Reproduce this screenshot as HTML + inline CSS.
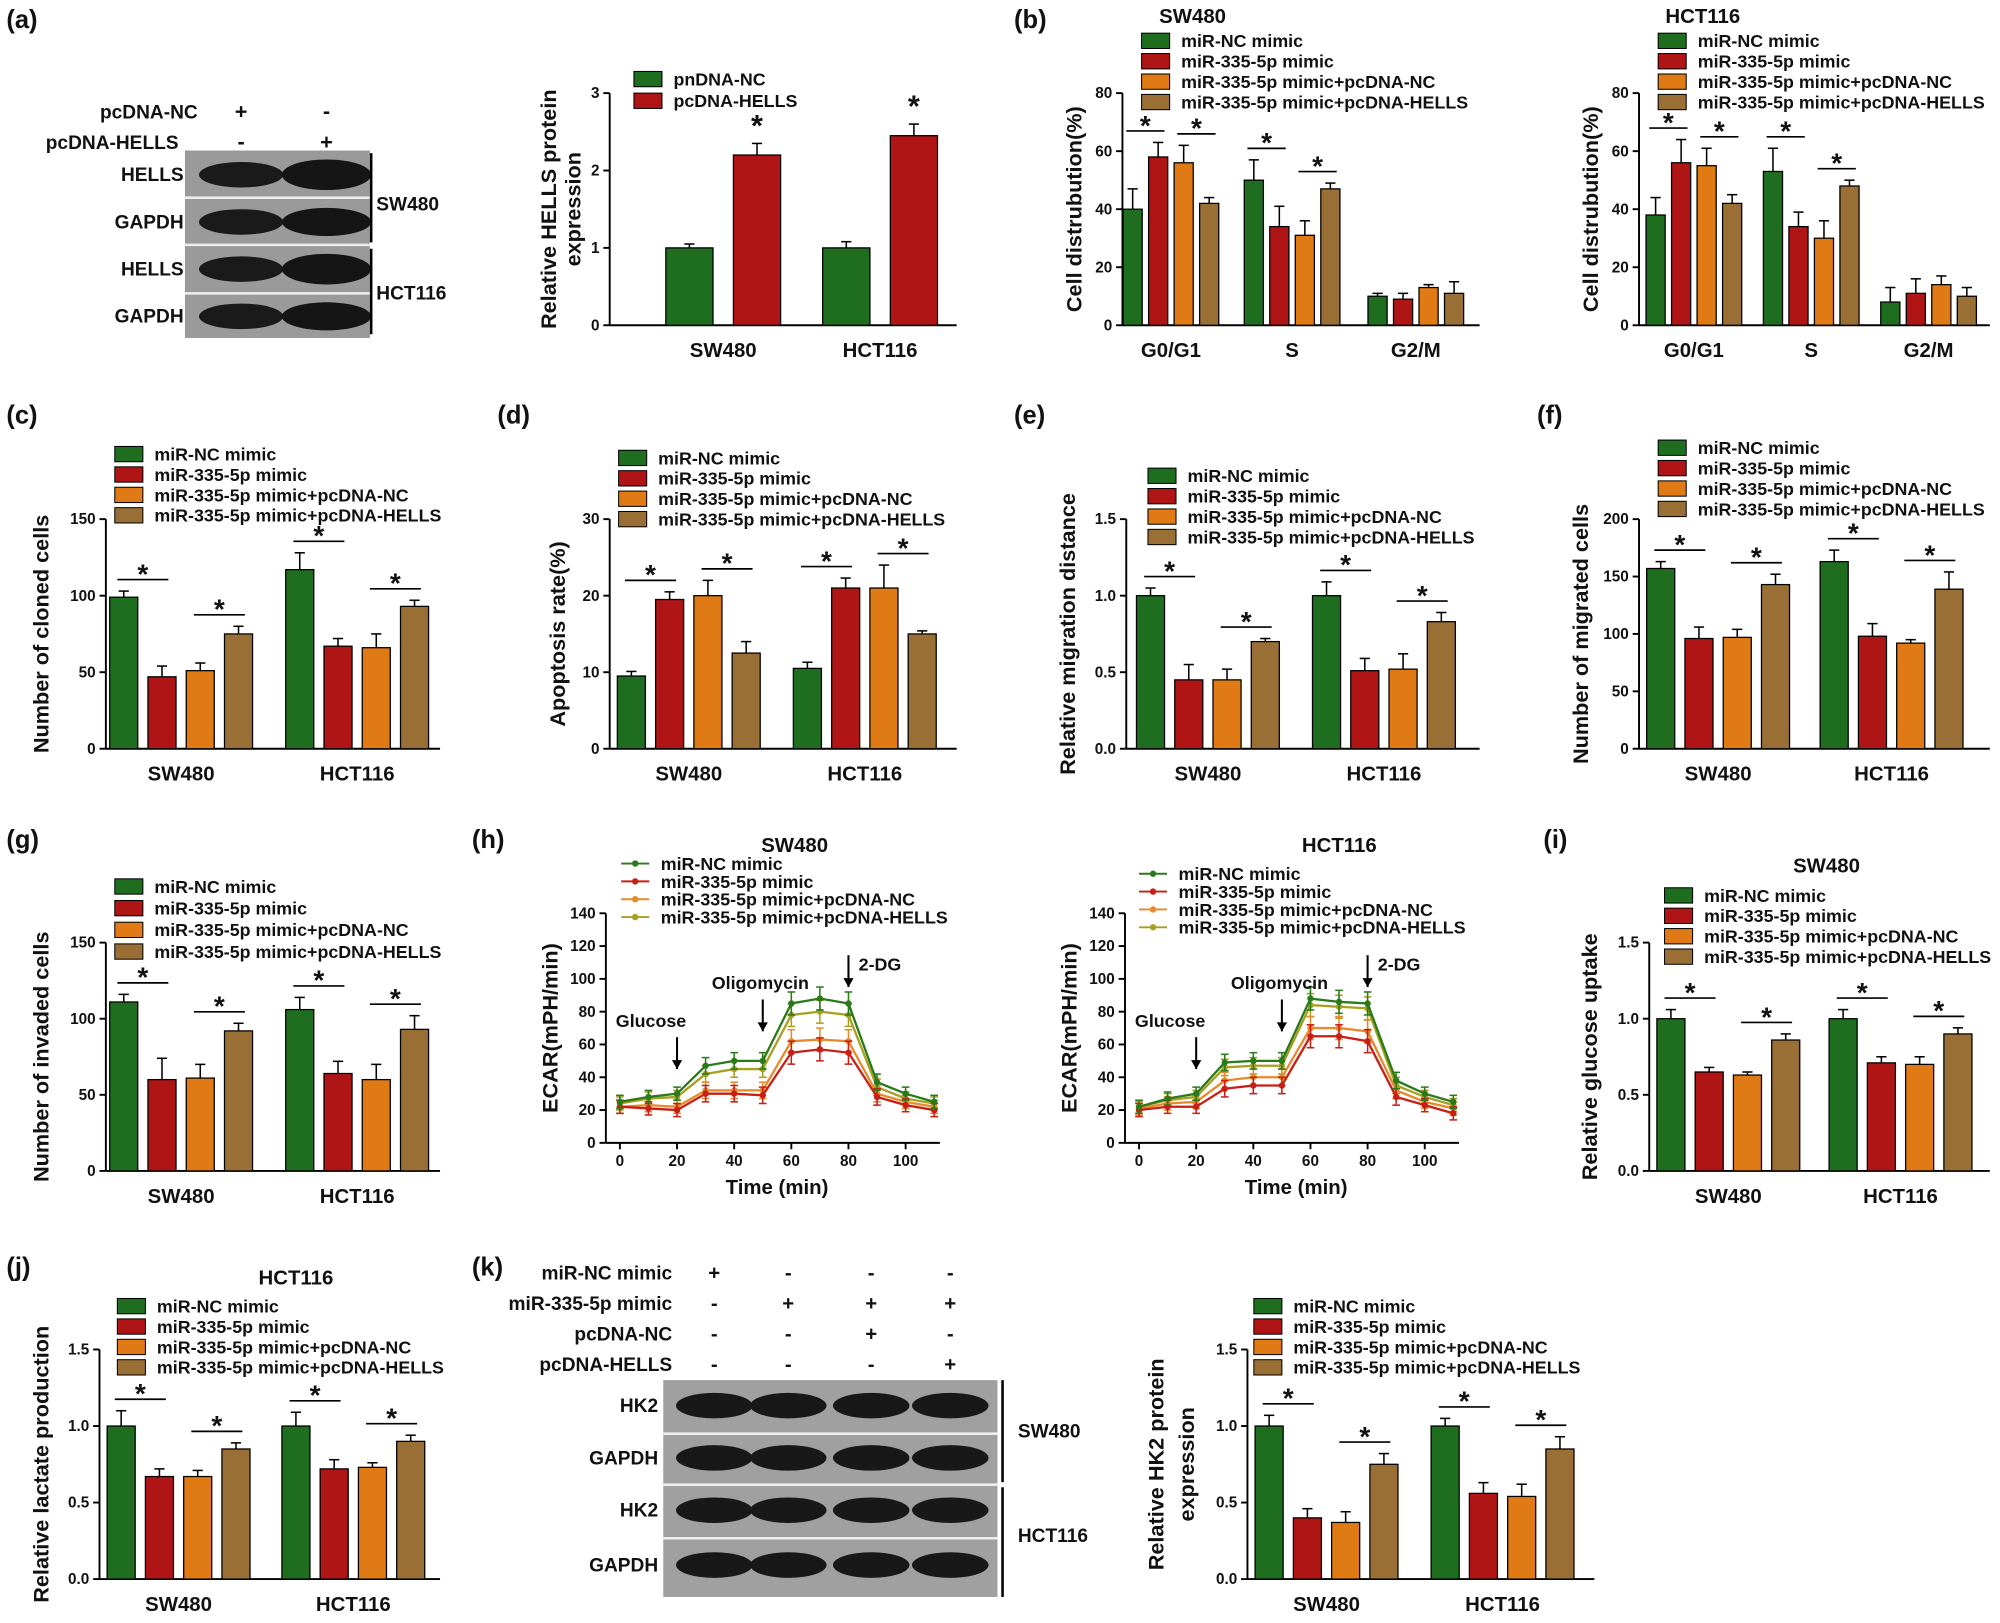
<!DOCTYPE html>
<html><head><meta charset="utf-8"><style>
html,body{margin:0;padding:0;background:#fff}
svg text{font-family:"Liberation Sans",Arial,sans-serif;font-weight:bold;fill:#111}
</style></head><body>
<svg id="fig" xmlns="http://www.w3.org/2000/svg" width="2000" height="1618" viewBox="0 0 1568 1268.5">
<rect width="1568" height="1269" fill="#fff"/>
</svg>
<script>
// ---- data ----
const legend4 = ["miR-NC mimic","miR-335-5p mimic","miR-335-5p mimic+pcDNA-NC","miR-335-5p mimic+pcDNA-HELLS"];
const cellLines = ["SW480","HCT116"];
const phases = ["G0/G1","S","G2/M"];
const aVals = [[1.0,2.2],[1.0,2.45]];
const aErr = [[0.05,0.15],[0.08,0.15]];
const bSWVals = [[40,58,56,42],[50,34,31,47],[10,9,13,11]];
const bSWErr = [[7,5,6,2],[7,7,5,2],[1,2,1,4]];
const bHCVals = [[38,56,55,42],[53,34,30,48],[8,11,14,10]];
const bHCErr = [[6,8,6,3],[8,5,6,2],[5,5,3,3]];
const cVals = [[99,47,51,75],[117,67,66,93]];
const cErr = [[4,7,5,5],[11,5,9,4]];
const dVals = [[9.5,19.5,20,12.5],[10.5,21,21,15]];
const dErr = [[0.6,1,2,1.5],[0.8,1.3,3,0.4]];
const eVals = [[1.0,0.45,0.45,0.7],[1.0,0.51,0.52,0.83]];
const eErr = [[0.05,0.1,0.07,0.02],[0.09,0.08,0.1,0.06]];
const fVals = [[157,96,97,143],[163,98,92,139]];
const fErr = [[6,10,7,9],[10,11,3,15]];
const gVals = [[111,60,61,92],[106,64,60,93]];
const gErr = [[5,14,9,5],[8,8,10,9]];
const iVals = [[1.0,0.65,0.63,0.86],[1.0,0.71,0.70,0.90]];
const iErr = [[0.06,0.03,0.02,0.04],[0.06,0.04,0.05,0.04]];
const jVals = [[1.0,0.67,0.67,0.85],[1.0,0.72,0.73,0.90]];
const jErr = [[0.1,0.05,0.04,0.04],[0.09,0.06,0.03,0.04]];
const kVals = [[1.0,0.40,0.37,0.75],[1.0,0.56,0.54,0.85]];
const kErr = [[0.07,0.06,0.07,0.07],[0.05,0.07,0.08,0.08]];
const timePts = [0,10,20,30,40,50,60,70,80,90,100,110];
const hSW = [
 [25,28,30,47,50,50,85,88,85,37,30,25],
 [22,21,20,30,30,29,55,57,55,28,23,20],
 [22,23,22,32,32,32,62,63,62,30,25,22],
 [24,27,28,42,45,45,78,80,78,34,27,24]];
const hHC = [
 [22,27,30,49,50,50,88,86,85,38,30,25],
 [20,22,22,33,35,35,65,65,62,28,23,18],
 [21,24,25,38,40,40,70,70,68,32,25,21],
 [22,26,28,46,47,47,84,83,82,35,28,23]];
const hErr = [4,4,4,5,5,5,7,7,7,5,4,4];
const pctTicks = [0,20,40,60,80];
const count150 = [0,50,100,150];
const rel15 = [0,0.5,1.0,1.5];
const ecarTicks = [0,20,40,60,80,100,120,140];
const timeTicks = [0,20,40,60,80,100];

const COL = ["#1f6e1f","#b01515","#e07a14","#9a6f35"];
const LCOL = ["#2a7a1a","#c81e14","#e88a2a","#a8a020"];
const NS="http://www.w3.org/2000/svg";
const svg=document.getElementById('fig');
function mk(tag,at,parent){const e=document.createElementNS(NS,tag);for(const k in at)e.setAttribute(k,at[k]);(parent||svg).appendChild(e);return e;}
function txt(x,y,s,size,anchor,parent,rot){const t=mk('text',{x:x,y:y,'font-size':size,'text-anchor':anchor||'start'},parent);if(rot)t.setAttribute('transform','rotate(-90 '+x+' '+y+')');t.textContent=s;return t;}

function legend(x,y,labels,dy,line){
  const g=mk('g',{});
  
  
  labels.forEach((l,i)=>{
    const e=mk('g',{},g);
    
    
    const yy=y+i*dy;
    if(line){mk('line',{x1:x,x2:x+22,y1:yy,y2:yy,stroke:LCOL[i],'stroke-width':1.5},e);mk('circle',{cx:x+11,cy:yy,r:2.5,fill:LCOL[i]},e);}
    else mk('rect',{x:x,y:yy-6,width:22,height:12,fill:COL[i],stroke:'#000','stroke-width':0.8},e);
    txt(x+31,yy+5,l,14,'start',e);
  });
}

function axisY(ax,y0,yTop,ticks,max,label,labelX,fmt){
  const g=mk('g',{});
  
  
  mk('line',{x1:ax,x2:ax,y1:y0,y2:yTop,stroke:'#000','stroke-width':1.5},g);
  ticks.forEach(t=>{const y=y0-(t/max)*(y0-yTop);mk('line',{x1:ax-5,x2:ax,y1:y,y2:y,stroke:'#000','stroke-width':1.5},g);txt(ax-8,y+4,fmt?fmt(t):String(t),12,'end',g);});
  const t=txt(labelX,(y0+yTop)/2,label,17,'middle',g,true);
  
}

function barChart(o){
  const sy=v=>o.y0-(v/o.max)*(o.y0-o.yTop);
  axisY(o.ax,o.y0,o.yTop,o.ticks,o.max,o.ylabel,o.labelX,o.fmt);
  mk('line',{x1:o.ax,x2:o.xEnd,y1:o.y0,y2:o.y0,stroke:'#000','stroke-width':1.5});
  const n=o.vals[0].length;
  o.vals.forEach((grp,gi)=>{
    const cx=o.centers[gi];
    const tl=txt(cx,o.y0+25,o.cats[gi],16,'middle');
    
    
    const xs=[];
    grp.forEach((v,bi)=>{
      const bx=cx+(bi-(n-1)/2)*o.step-o.bw/2;
      xs.push(bx+o.bw/2);
      const e=o.errs[gi][bi];
      const mid=bx+o.bw/2;
      mk('line',{x1:mid,x2:mid,y1:sy(v),y2:sy(v+e),stroke:'#000','stroke-width':1.2});
      mk('line',{x1:mid-4,x2:mid+4,y1:sy(v+e),y2:sy(v+e),stroke:'#000','stroke-width':1.2});
      const r=mk('rect',{x:bx,y:sy(v),width:o.bw,height:o.y0-sy(v),fill:COL[bi],stroke:'#000','stroke-width':1});
      
      
    });
    if(o.sig){
      const pairs=n===4?[[0,1],[2,3]]:[[0,1]];
      if(o.sigPairs&&o.sigPairs[gi]===0)return;
      pairs.forEach(p=>{
        const top=Math.max(grp[p[0]]+o.errs[gi][p[0]],grp[p[1]]+o.errs[gi][p[1]]);
        const y=sy(top)-9;
        if(n===4||o.sigLine){mk('line',{x1:xs[p[0]]-5,x2:xs[p[1]]+5,y1:y,y2:y,stroke:'#000','stroke-width':1.3});}
        const s=txt((xs[p[0]]+xs[p[1]])/2,y+(n===4?3:-2),n===4?'*':'',22,'middle');
        if(n!==4){const s2=txt(xs[1],sy(grp[1]+o.errs[gi][1])-6,'*',24,'middle');}
        
      });
    }
  });
}

function panelLabel(x,y,s){const t=txt(x,y,s,20,'start');}

// ---- (a) ----
panelLabel(5,22,'(a)');
(function(){
  const g=mk('g',{});
  txt(155,93,'pcDNA-NC',15,'end',g);txt(140,117,'pcDNA-HELLS',15,'end',g);
  txt(189,93,'+',17,'middle',g);txt(189,117,'-',17,'middle',g);txt(256,93,'-',17,'middle',g);txt(256,117,'+',17,'middle',g);
  mk('rect',{x:145,y:118,width:145,height:147,fill:'#9a9a9a'},g);
  [155,192,230].forEach(y=>mk('line',{x1:145,x2:290,y1:y,y2:y,stroke:'#eee','stroke-width':2},g));
  [[137,'HELLS'],[174,'GAPDH'],[211,'HELLS'],[248,'GAPDH']].forEach((r,i)=>{
    txt(144,r[0]+5,r[1],15,'end',g);
    mk('ellipse',{cx:189,cy:r[0],rx:33,ry:10,fill:'#1a1a1a'},g);
    mk('ellipse',{cx:256,cy:r[0],rx:35,ry:i%2?11:12,fill:'#151515'},g);
  });
  mk('line',{x1:291,x2:291,y1:120,y2:190,stroke:'#000','stroke-width':2},g);
  mk('line',{x1:291,x2:291,y1:195,y2:262,stroke:'#000','stroke-width':2},g);
  txt(295,165,'SW480',15,'start',g);txt(295,235,'HCT116',15,'start',g);
})();
legend(497,62,["pnDNA-NC","pcDNA-HELLS"],17);
barChart({ax:478,y0:255,yTop:73,xEnd:750,max:3,ticks:[0,1,2,3],vals:aVals,errs:aErr,cats:cellLines,centers:[567,690],bw:37,step:53,ylabel:'Relative HELLS protein',labelX:436,sig:true});
txt(455,164,'expression',17,'middle',null,true);

// ---- (b) ----
panelLabel(795,22,'(b)');
txt(935,18,'SW480',16,'middle');txt(1335,18,'HCT116',16,'middle');
legend(895,32,legend4,16);legend(1300,32,legend4,16);
barChart({ax:880,y0:255,yTop:73,xEnd:1160,max:80,ticks:pctTicks,vals:bSWVals,errs:bSWErr,cats:phases,centers:[918,1013,1110],bw:15,step:20,ylabel:'Cell distrubution(%)',labelX:848,sig:true,sigPairs:[1,1,0]});
barChart({ax:1285,y0:255,yTop:73,xEnd:1560,max:80,ticks:pctTicks,vals:bHCVals,errs:bHCErr,cats:phases,centers:[1328,1420,1512],bw:15,step:20,ylabel:'Cell distrubution(%)',labelX:1253,sig:true,sigPairs:[1,1,0]});

// ---- (c)-(f) ----
panelLabel(5,332,'(c)');panelLabel(390,332,'(d)');panelLabel(795,332,'(e)');panelLabel(1205,332,'(f)');
legend(90,356,legend4,16);
barChart({ax:83,y0:587,yTop:407,xEnd:345,max:150,ticks:count150,vals:cVals,errs:cErr,cats:cellLines,centers:[142,280],bw:22,step:30,ylabel:'Number of cloned cells',labelX:38,sig:true});
legend(485,359,legend4,16);
barChart({ax:478,y0:587,yTop:407,xEnd:750,max:30,ticks:[0,10,20,30],vals:dVals,errs:dErr,cats:cellLines,centers:[540,678],bw:22,step:30,ylabel:'Apoptosis rate(%)',labelX:443,sig:true});
legend(900,373,legend4,16);
barChart({ax:883,y0:587,yTop:407,xEnd:1160,max:1.5,ticks:rel15,vals:eVals,errs:eErr,cats:cellLines,centers:[947,1085],bw:22,step:30,ylabel:'Relative migration distance',labelX:843,sig:true,fmt:t=>t.toFixed(1)});
legend(1300,351,legend4,16);
barChart({ax:1285,y0:587,yTop:407,xEnd:1560,max:200,ticks:[0,50,100,150,200],vals:fVals,errs:fErr,cats:cellLines,centers:[1347,1483],bw:22,step:30,ylabel:'Number of migrated cells',labelX:1245,sig:true});

// ---- (g) ----
panelLabel(5,665,'(g)');
legend(90,695,legend4,17);
barChart({ax:83,y0:918,yTop:739,xEnd:345,max:150,ticks:count150,vals:gVals,errs:gErr,cats:cellLines,centers:[142,280],bw:22,step:30,ylabel:'Number of invaded cells',labelX:38,sig:true});

// ---- (h) line charts ----
panelLabel(370,665,'(h)');
function lineChart(ax,x0,y0,series,title,tx,legX,legY){
  const xPer=2.24, yPer=180/140;
  const sx=t=>x0+t*xPer, sy=v=>y0-v*yPer;
  txt(tx,668,title,16,'middle');
  legend(legX,legY,legend4,14,true);
  axisY(ax,y0,y0-180,ecarTicks,140,'ECAR(mPH/min)',ax-38);
  mk('line',{x1:ax,x2:sx(112),y1:y0,y2:y0,stroke:'#000','stroke-width':1.5});
  timeTicks.forEach(t=>{mk('line',{x1:sx(t),x2:sx(t),y1:y0,y2:y0+5,stroke:'#000','stroke-width':1.5});txt(sx(t),y0+18,String(t),12,'middle');});
  txt(sx(55),y0+40,'Time (min)',16,'middle');
  [3,2,1,0].forEach(si=>{
    const s=series[si];
    const p=mk('polyline',{points:timePts.map((t,i)=>sx(t)+','+sy(s[i])).join(' '),fill:'none',stroke:LCOL[si],'stroke-width':1.8});
    
    
    timePts.forEach((t,i)=>{
      const e=hErr[i];
      mk('line',{x1:sx(t),x2:sx(t),y1:sy(s[i]-e),y2:sy(s[i]+e),stroke:LCOL[si],'stroke-width':1.2});
      mk('line',{x1:sx(t)-3,x2:sx(t)+3,y1:sy(s[i]+e),y2:sy(s[i]+e),stroke:LCOL[si],'stroke-width':1.2});
      mk('line',{x1:sx(t)-3,x2:sx(t)+3,y1:sy(s[i]-e),y2:sy(s[i]-e),stroke:LCOL[si],'stroke-width':1.2});
      const c=mk('circle',{cx:sx(t),cy:sy(s[i]),r:2.5,fill:LCOL[si]});
      
      
    });
  });
  [[20,'Glucose',-48,35],[50,'Oligomycin',-12,58],[80,'2-DG',8,85]].forEach(a=>{
    const x=sx(a[0]); const ytip=sy(a[3]+10), ytop=ytip-25;
    mk('line',{x1:x,x2:x,y1:ytop,y2:ytip,stroke:'#000','stroke-width':1.6});
    mk('path',{d:`M${x-4},${ytip-7} L${x},${ytip} L${x+4},${ytip-7}Z`,fill:'#000'});
    txt(a[2]>0?x+8:x+a[2]+ (a[1]==='Oligomycin'?-28:0),ytop-(a[1]==='2-DG'?-12:8),a[1],14,'start');
  });
}
lineChart(475,486,896,hSW,'SW480',623,487,677);
lineChart(882,893,896,hHC,'HCT116',1050,893,685);

// ---- (i) ----
panelLabel(1210,665,'(i)');
txt(1432,684,'SW480',16,'middle');
legend(1305,702,legend4,16);
barChart({ax:1293,y0:918,yTop:739,xEnd:1560,max:1.5,ticks:rel15,vals:iVals,errs:iErr,cats:cellLines,centers:[1355,1490],bw:22,step:30,ylabel:'Relative glucose uptake',labelX:1252,sig:true,fmt:t=>t.toFixed(1)});

// ---- (j) ----
panelLabel(5,1000,'(j)');
txt(232,1007,'HCT116',16,'middle');
legend(92,1024,legend4,16);
barChart({ax:78,y0:1238,yTop:1058,xEnd:345,max:1.5,ticks:rel15,vals:jVals,errs:jErr,cats:cellLines,centers:[140,277],bw:22,step:30,ylabel:'Relative lactate production',labelX:38,sig:true,fmt:t=>t.toFixed(1)});

// ---- (k) ----
panelLabel(370,1000,'(k)');
(function(){
  const g=mk('g',{});
  const rows=[['miR-NC mimic',['+','-','-','-']],['miR-335-5p mimic',['-','+','+','+']],['pcDNA-NC',['-','-','+','-']],['pcDNA-HELLS',['-','-','-','+']]];
  const cx=[560,618,683,745];
  rows.forEach((r,i)=>{const y=1003+i*24;txt(527,y,r[0],15,'end',g);r[1].forEach((s,j)=>txt(cx[j],y,s,16,'middle',g));});
  mk('rect',{x:520,y:1082,width:262,height:170,fill:'#a0a0a0'},g);
  [1124,1164,1206].forEach(y=>mk('line',{x1:520,x2:782,y1:y,y2:y,stroke:'#eee','stroke-width':2},g));
  [[1102,'HK2'],[1143,'GAPDH'],[1184,'HK2'],[1227,'GAPDH']].forEach(r=>{
    txt(516,r[0]+5,r[1],15,'end',g);
    cx.forEach(c=>mk('ellipse',{cx:c,cy:r[0],rx:30,ry:10,fill:'#181818'},g));
  });
  mk('line',{x1:786,x2:786,y1:1082,y2:1162,stroke:'#000','stroke-width':2},g);
  mk('line',{x1:786,x2:786,y1:1166,y2:1252,stroke:'#000','stroke-width':2},g);
  txt(798,1127,'SW480',15,'start',g);txt(798,1209,'HCT116',15,'start',g);
})();
legend(983,1024,legend4,16);
barChart({ax:978,y0:1238,yTop:1058,xEnd:1250,max:1.5,ticks:rel15,vals:kVals,errs:kErr,cats:cellLines,centers:[1040,1178],bw:22,step:30,ylabel:'Relative HK2 protein',labelX:912,sig:true,fmt:t=>t.toFixed(1)});
txt(936,1148,'expression',17,'middle',null,true);
</script>
</body></html>
